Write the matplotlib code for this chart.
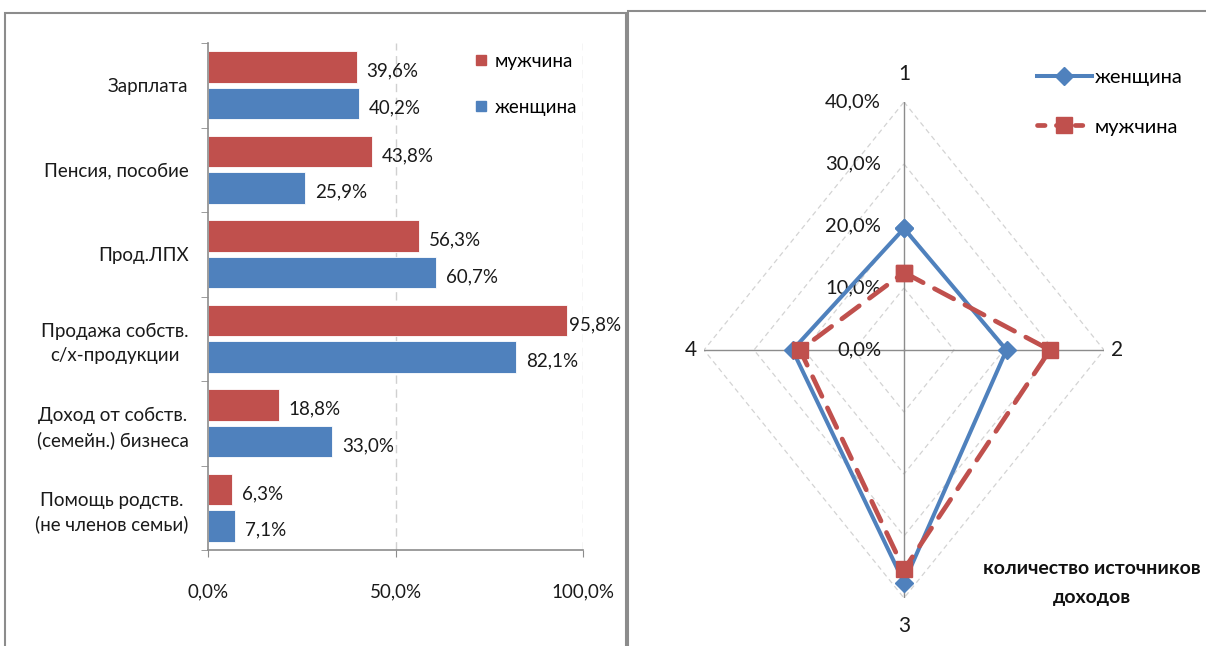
import numpy as np
import matplotlib
matplotlib.use("Agg")
import matplotlib.pyplot as plt
from matplotlib.patches import Rectangle
from matplotlib.lines import Line2D

plt.rcParams['font.family'] = ['Lato', 'DejaVu Sans']

# --- данные: источники доходов (%) ---
categories = [
    "Зарплата",
    "Пенсия, пособие",
    "Прод.ЛПХ",
    "Продажа собств.\nс/х-продукции",
    "Доход от собств.\n(семейн.) бизнеса",
    "Помощь родств.\n(не членов семьи)",
]
men = [39.6, 43.8, 56.3, 95.8, 18.8, 6.3]
women = [40.2, 25.9, 60.7, 82.1, 33.0, 7.1]
bar_ticks = [0, 50, 100]

# --- данные: количество источников доходов (%) ---
radar_labels = ["1", "2", "3", "4"]
radar_women = [19.6, 20.5, 37.5, 22.3]
radar_men = [12.5, 29.2, 35.4, 20.8]
radar_ticks = [0, 10, 20, 30, 40]

RED = "#C0504D"
BLUE = "#4F81BD"
TXT = "#1A1A1A"
W, H = 1206, 646


def fmt(v):
    return f"{v:.1f}%".replace(".", ",")


def fig_rect(x0, y0, x1, y1):
    return [x0 / W, 1 - y1 / H, (x1 - x0) / W, (y1 - y0) / H]


fig = plt.figure(figsize=(W / 100, H / 100), dpi=100)

# рамки панелей
for x0, y0, x1 in [(5, 13, 626), (628, 11, 1212)]:
    fig.patches.append(Rectangle((x0 / W, -0.05), (x1 - x0) / W, 1.05 - y0 / H,
                                 transform=fig.transFigure, fill=False,
                                 edgecolor="#8C8C8C", linewidth=1.5))

# ---------- столбчатая диаграмма ----------
ax = fig.add_axes(fig_rect(208, 43, 583, 550))
y = np.arange(len(categories))
bh = 0.37
ax.barh(y - 0.215, men, height=bh, color=RED, edgecolor="white", linewidth=0.6)
ax.barh(y + 0.215, women, height=bh, color=BLUE, edgecolor="white", linewidth=0.6)
for i, (m, w) in enumerate(zip(men, women)):
    off_m = 2 if m > 90 else 10
    ax.annotate(fmt(m), (m, i - 0.215), xytext=(off_m, -4), textcoords="offset pixels",
                ha="left", va="center", fontsize=13.5, color=TXT)
    ax.annotate(fmt(w), (w, i + 0.215), xytext=(10, -4), textcoords="offset pixels",
                ha="left", va="center", fontsize=13.5, color=TXT)

ax.set_xlim(0, 100)
ax.set_ylim(len(categories) - 0.5, -0.5)
ax.set_xticks(bar_ticks)
ax.set_xticklabels([fmt(t) for t in bar_ticks], fontsize=13.5, color=TXT)
ax.tick_params(axis="x", length=5, color="#8C8C8C", pad=19)
ax.set_yticks(y)
ax.set_yticklabels(categories, fontsize=13.5, color=TXT, multialignment="center",
                   linespacing=1.45)
ax.set_yticks(np.arange(len(categories) + 1) - 0.5, minor=True)
ax.tick_params(axis="y", which="major", length=0, pad=14)
ax.tick_params(axis="y", which="minor", length=5, color="#8C8C8C")
for t in bar_ticks[1:]:
    ax.axvline(t, color="#D0D0D0", linestyle=(0, (6, 4)), linewidth=1, zorder=0)
for s in ["top", "right"]:
    ax.spines[s].set_visible(False)
for s in ["left", "bottom"]:
    ax.spines[s].set_color("#8C8C8C")
    ax.spines[s].set_linewidth(1.2)

bar_handles = [
    Line2D([], [], linestyle="none", marker="s", markersize=7, color=RED),
    Line2D([], [], linestyle="none", marker="s", markersize=7, color=BLUE),
]
fig.legend(bar_handles, ["мужчина", "женщина"], loc="upper left",
           bbox_to_anchor=(455 / W, 1 - 36 / H), frameon=False, fontsize=13.5,
           handletextpad=0.2, labelspacing=1.55, handlelength=1)

# ---------- лепестковая диаграмма ----------
rx = fig.add_axes(fig_rect(704, 102, 1104, 598))
rx.set_xlim(-40, 40)
rx.set_ylim(-40, 40)
rx.axis("off")
theta = np.deg2rad([0, 90, 180, 270])
sx, sy = np.sin(theta), np.cos(theta)

for r in radar_ticks[1:]:
    rx.plot(np.append(r * sx, r * sx[0]), np.append(r * sy, r * sy[0]),
            color="#D3D3D3", linestyle=(0, (4, 3)), linewidth=0.9, zorder=1)
rmax = radar_ticks[-1]
for a, b in zip(sx, sy):
    rx.plot([0, rmax * a], [0, rmax * b], color="#8C8C8C", linewidth=1, zorder=2)
for r in radar_ticks:
    rx.text(-4.6, r, fmt(r), ha="right", va="center", fontsize=14.5, color=TXT)
for lab, a, b in zip(radar_labels, sx, sy):
    rx.text(a * 42.6, b * 44.5, lab, ha="center", va="center", fontsize=15, color=TXT)

wv = np.array(radar_women)
mv = np.array(radar_men)
rx.plot(np.append(wv * sx, wv[0] * sx[0]), np.append(wv * sy, wv[0] * sy[0]),
        color=BLUE, linewidth=2.9, marker="D", markersize=9.5, zorder=3,
        clip_on=False)
rx.plot(np.append(mv * sx, mv[0] * sx[0]), np.append(mv * sy, mv[0] * sy[0]),
        color=RED, linewidth=3.4, linestyle=(0, (4.6, 2.7)), dash_capstyle="round",
        marker="s", markersize=12, zorder=4, clip_on=False)

radar_handles = [
    Line2D([], [], color=BLUE, linewidth=2.9, marker="D", markersize=9.5),
    Line2D([], [], color=RED, linewidth=3.4, linestyle=(0, (1.6, 2.4)),
           dash_capstyle="round", marker="s", markersize=12),
]
fig.legend(radar_handles, ["женщина", "мужчина"], loc="upper left",
           bbox_to_anchor=(1019 / W, 1 - 51 / H), frameon=False, fontsize=14.5,
           handletextpad=0.15, labelspacing=1.6, handlelength=2.7)

fig.text(1092 / W, 1 - 583 / H, "количество источников\nдоходов", ha="center",
         va="center", fontsize=14, fontweight="bold", color="#111111",
         linespacing=1.8)

fig.savefig("out.png", dpi=100)
